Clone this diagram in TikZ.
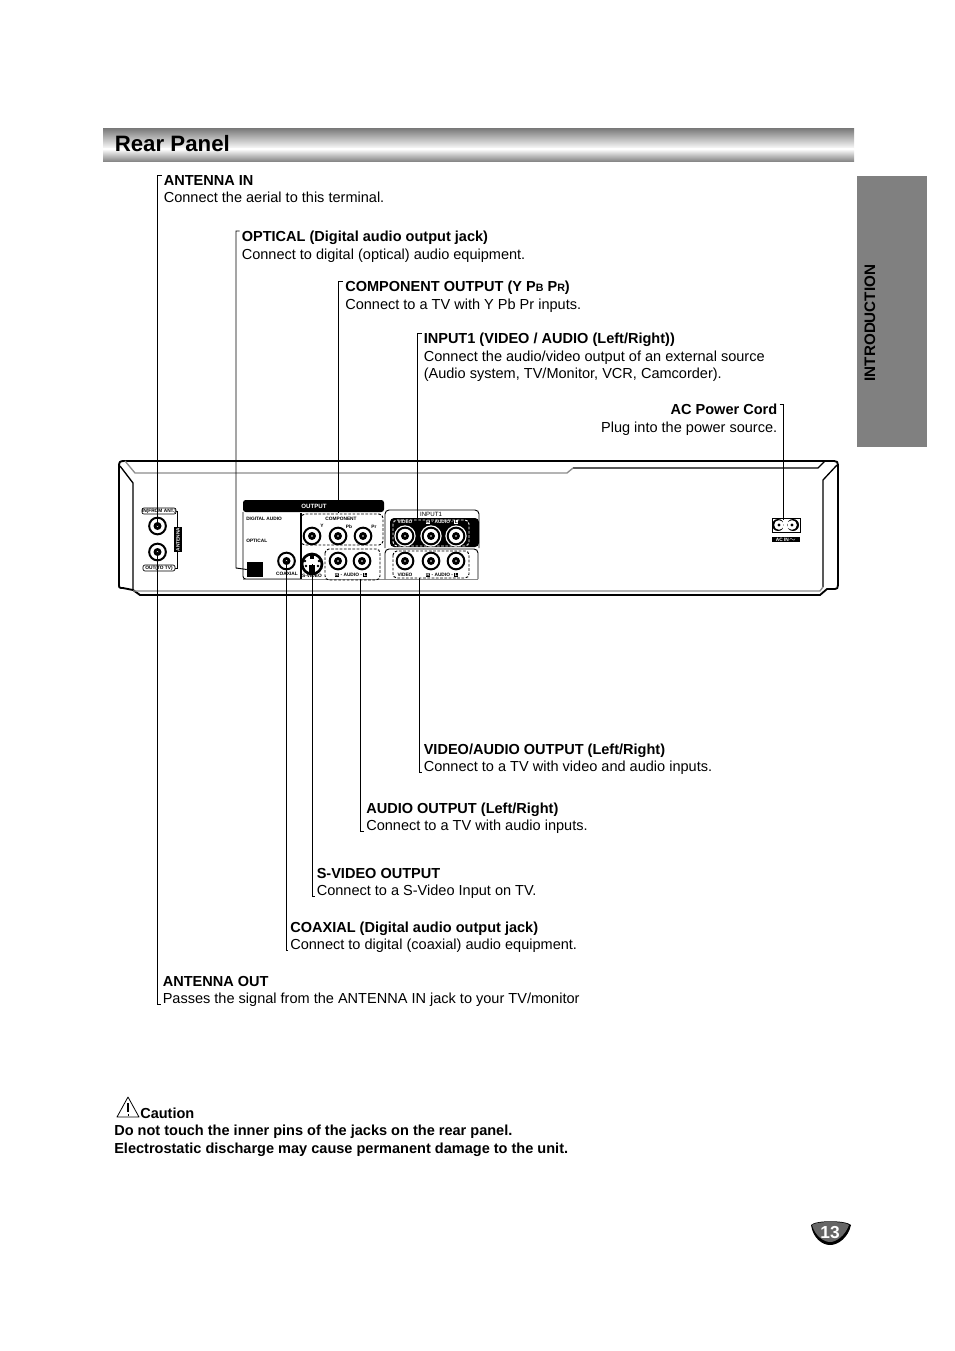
\documentclass[tikz,border=0pt]{standalone}
\usepackage{fontspec}
\setmainfont{Liberation Sans}
\usepackage{xcolor}
\usetikzlibrary{calc}
\definecolor{tabgray}{HTML}{808080}
\definecolor{bargray}{HTML}{7E7E7E}
\definecolor{linegray}{HTML}{8C8C8C}
\newcommand{\invbox}[1]{{\setlength{\fboxsep}{0.4pt}\colorbox{black}{\textcolor{white}{#1}}}}
\newcommand{\invboxw}[1]{{\setlength{\fboxsep}{0.4pt}\colorbox{white}{\textcolor{black}{#1}}}}
\tikzset{
  lbl/.style={font=\fontsize{10.9}{13.1}\selectfont,align=left,inner xsep=1.5pt,inner ysep=0pt},
  lbltop/.style={lbl,anchor=north west},
  lblbot/.style={lbl,anchor=south west,text depth=0pt},
  leader/.style={draw=black,line width=0.7pt},
  jack/.style={circle,draw=black,fill=white,line width=1.5pt,minimum size=12.5pt,inner sep=0pt},
  jackcore/.style={circle,fill=black,minimum size=6pt,inner sep=0pt},
  jackhole/.style={circle,fill=white,minimum size=1.4pt,inner sep=0pt},
  halo/.style={circle,fill=white,minimum size=16pt,inner sep=0pt},
  tiny/.style={font=\fontsize{3.6}{4}\selectfont\bfseries,inner sep=0pt},
  tinyw/.style={tiny,text=white},
  dashbox/.style={dash pattern=on 2pt off 1.2pt,line width=0.7pt,rounded corners=3pt}
}
\begin{document}
\begin{tikzpicture}[x=0.75pt,y=-0.75pt]
  \useasboundingbox (0,0) rectangle (954,1351);
  % title bar
  \shade[top color=bargray,bottom color=white] (103,129) rectangle (854,149);
  \shade[top color=white,bottom color=bargray] (103,149) rectangle (854,162);
  \node[anchor=west,inner sep=0pt,font=\fontsize{16.7}{20}\selectfont\bfseries] (title) at (114.5,144) {Rear Panel};
  % side tab
  \fill[tabgray] (857,176) rectangle (927,447);
  \node[rotate=90,inner sep=0pt,font=\fontsize{11.4}{13}\selectfont\bfseries] (tab) at (870,323) {INTRODUCTION};

  % player outline
  \draw[line width=1.4pt,line join=round] (133,590) -- (123,588) -- (121,588) .. controls (119,588) and (119,587) .. (119,585) -- (119,466) .. controls (119,462) and (120,461) .. (124,461)
    -- (834,461) .. controls (837,461) and (838,462) .. (838,465) -- (838,585) .. controls (838,588) and (837,589) .. (835,589) -- (827,589) -- (820,595) -- (140,595) -- (133,590);
  \draw[line width=1pt] (120,466) -- (133,483) -- (133,590);
  \draw[line width=1pt] (837,465) -- (823,480) -- (823,587);
  \draw[line width=1pt] (573,468) -- (818,468) -- (825,461);
  \draw[line width=1pt,linegray] (125,461) -- (135,473) -- (567,473) -- (573,468);
  \draw[line width=1pt,linegray] (133,591) -- (820,591) -- (823,587);

  % antenna block
  \draw[line width=0.5pt] (175,511) -- (177,511) -- (177,568) -- (175,568);
  \node[draw,rounded corners=1.5pt,line width=0.5pt,fill=white,minimum width=24pt,minimum height=4.5pt,tiny] (infrom) at (159,511) {IN(FROM ANT.)};
  \node[draw,rounded corners=1.5pt,line width=0.5pt,fill=white,minimum width=24pt,minimum height=4.5pt,tiny] (outto) at (159,568) {OUT(TO TV)};
  \node[fill=black,rotate=90,minimum width=19pt,minimum height=6pt,tinyw] (antbox) at (178,539.5) {ANTENNA};

  % output block
  \draw[line width=0.7pt,rounded corners=2pt] (243,512) -- (243,579) -- (300,579);
  \draw[line width=1.2pt,linegray] (243,579.5) -- (478,579.5);
  \draw[line width=0.9pt] (301,513) -- (301,579);
  \fill[black,rounded corners=2pt] (243,512) -- (243,500) -- (384,500) -- (384,512) -- cycle;
  \node[tinyw,font=\fontsize{4.6}{5}\selectfont\bfseries] (outhead) at (314,506) {OUTPUT};
  \node[tiny,anchor=west] (digaud) at (246,519) {DIGITAL AUDIO};
  \node[tiny,anchor=west] (optlbl) at (246,541) {OPTICAL};
  \node[fill=black,minimum width=12pt,minimum height=11.5pt,inner sep=0pt] (optsq) at (255,569.5) {};
  \draw[dashbox] (301,514) rectangle (383,545);
  \node[tiny] (complbl) at (341,519) {COMPONENT};
  \node[tiny] (ylbl) at (322,526) {Y};
  \node[tiny] (pblbl) at (349,527) {Pb};
  \node[tiny] (prlbl) at (374,527) {Pr};
  \node[tiny] (coaxlbl) at (287,574) {COAXIAL};
  \node[tiny] (svlbl) at (312,576) {S-VIDEO};
  \draw[dashbox] (325,549) rectangle (380,580);
  \node[tiny] (audlbl) at (351,575) {\invbox{R} - AUDIO - \invbox{L}};

  % input block
  \draw[line width=0.7pt,rounded corners=3pt] (385,548) -- (385,510) -- (479,510) -- (479,548);
  \fill[black,rounded corners=3pt] (390,518) rectangle (479,547);
  \draw[dashbox,white] (393,520) rectangle (469,546);
  \node[tiny,font=\fontsize{4.6}{5}\selectfont] (inplbl) at (431,514) {INPUT1};
  \node[tinyw] (vidlblt) at (405,522) {VIDEO};
  \node[tinyw] (audlblt) at (442,522) {\invboxw{R} - AUDIO - \invboxw{L}};
  \draw[line width=0.7pt,rounded corners=3pt] (385,579) -- (385,549) -- (478,549) -- (478,579);
  \draw[dashbox] (393,551) rectangle (469,578);
  \node[tiny] (vidlblb) at (405,575) {VIDEO};
  \node[tiny] (audlblb) at (442,575) {\invbox{R} - AUDIO - \invbox{L}};

  % jacks
  \foreach \name/\px/\py in {antin/157.5/526,antout/157.5/552,coax/286.5/561,compy/312/536,comppb/338/536,comppr/363/536,audr/338/561,audl/362/561,vidout/405/561,aoutr/431/561,aoutl/456/561}{
    \node[jack] (\name) at (\px,\py) {};
    \node[jackcore] (\name core) at (\name) {};
    \node[jackhole] (\name hole) at (\name) {};
  }
  \foreach \name/\px in {inv/405,inr/431,inl/456}{
    \node[halo] (\name halo) at (\px,536) {};
    \node[jack] (\name) at (\px,536) {};
    \node[jackcore] (\name core) at (\name) {};
    \node[jackhole] (\name hole) at (\name) {};
  }
  % s-video
  \node[circle,draw=black,fill=white,line width=2pt,minimum size=15pt,inner sep=0pt] (svideo) at (312,564) {};
  \fill[black] (310,553) rectangle (314,559);
  \fill[black] (309,565) rectangle (315,573);
  \foreach \name/\px/\py in {pina/305/561,pinb/319/561,pinc/306/566,pind/318/566}{
    \node[circle,fill=black,minimum size=2.2pt,inner sep=0pt] (\name) at (\px,\py) {};
  }

  % ac inlet
  \node[draw,line width=0.7pt,minimum width=21pt,minimum height=10.5pt,inner sep=0pt] (acbox) at (786,525) {};
  \fill[black] (778,525) circle (6) (793,525) circle (6);
  \fill[white] (779,525) circle (4.8) (792,525) circle (4.8) (783,522) rectangle (788,528);
  \fill[black] (779,525) circle (1.6) (792,525) circle (1.6);
  \node[fill=black,minimum width=21pt,minimum height=4pt,tinyw] (aclbl) at (786,539.5) {AC IN$\sim$};

  % labels, upper
  \node[lbltop] (antennain) at (161.5,175) {\textbf{ANTENNA IN}\\Connect the aerial to this terminal.};
  \node[lbltop] (optical) at (239.5,231) {\textbf{OPTICAL (Digital audio output jack)}\\Connect to digital (optical) audio equipment.};
  \node[lbltop] (component) at (343,281) {\textbf{COMPONENT OUTPUT (Y P{\fontsize{8}{9}\selectfont B} P{\fontsize{8}{9}\selectfont R})}\\Connect to a TV with Y Pb Pr inputs.};
  \node[lbltop] (inputone) at (421.5,333) {\textbf{INPUT1 (VIDEO / AUDIO (Left/Right))}\\Connect the audio/video output of an external source\\(Audio system, TV/Monitor, VCR, Camcorder).};
  \node[lbl,anchor=north east,align=right] (acpower) at (779.5,404) {\textbf{AC Power Cord}\\Plug into the power source.};
  % labels, lower
  \node[lblbot] (vidaudout) at (421.5,772) {\textbf{VIDEO/AUDIO OUTPUT (Left/Right)}\\Connect to a TV with video and audio inputs.};
  \node[lblbot] (audout) at (364,831) {\textbf{AUDIO OUTPUT (Left/Right)}\\Connect to a TV with audio inputs.};
  \node[lblbot] (svout) at (314.5,896) {\textbf{S-VIDEO OUTPUT}\\Connect to a S-Video Input on TV.};
  \node[lblbot] (coaxout) at (288,950) {\textbf{COAXIAL (Digital audio output jack)}\\Connect to digital (coaxial) audio equipment.};
  \node[lblbot] (antennaout) at (160.5,1004) {\textbf{ANTENNA OUT}\\Passes the signal from the ANTENNA IN jack to your TV/monitor};

  % leader ends
  \coordinate (optbend) at (236,568);
  \coordinate (compend) at (338.3,513);
  \coordinate (inpend) at (417.5,518);
  \coordinate (acend) at (783,520);
  \coordinate (audend) at (360.5,579);
  \coordinate (vidend) at (419,578);
  \draw[leader] (antennain.north west) -| (antin.center);
  \draw[leader] (optical.north west) -| (optbend) -- (optsq.west);
  \draw[leader] (component.north west) -| (compend);
  \draw[leader] (inputone.north west) -| (inpend);
  \draw[leader] (acpower.north east) -| (acend);
  \draw[leader] (vidaudout.south west) -| (vidend);
  \draw[leader] (audout.south west) -| (audend);
  \draw[leader] (svout.south west) -| (svideo.center);
  \draw[leader] (coaxout.south west) -| (coax.center);
  \draw[leader] (antennaout.south west) -| (antout.center);

  % caution
  \draw[line width=0.6pt,line join=round] (128,1097) -- (117,1117) -- (139,1117) -- cycle;
  \draw[line width=0.8pt] (128,1103) -- (128,1112);
  \fill[black] (127.5,1114) rectangle (128.5,1115.5);
  \node[anchor=west,inner sep=0pt,font=\fontsize{10.9}{13}\selectfont\bfseries] (caution) at (140,1113) {Caution};
  \node[anchor=north west,inner sep=0pt,align=left,font=\fontsize{10.9}{13.1}\selectfont\bfseries] (cautiontxt) at (114,1125) {Do not touch the inner pins of the jacks on the rear panel.\\Electrostatic discharge may cause permanent damage to the unit.};

  % page badge
  \fill[black] (811,1225) .. controls (815,1220) and (846,1220) .. (851,1225) .. controls (848,1238) and (838,1245) .. (830,1245) .. controls (822,1245) and (813,1238) .. (811,1225) -- cycle;
  \fill[gray!80!black] (812,1225) .. controls (816,1221) and (845,1221) .. (849,1225) .. controls (845,1236) and (836,1242) .. (830,1242) .. controls (824,1242) and (815,1236) .. (812,1225) -- cycle;
  \node[text=white,inner sep=0pt,font=\fontsize{13}{14}\selectfont\bfseries] (pagenum) at (830,1233) {13};
\end{tikzpicture}
\end{document}
